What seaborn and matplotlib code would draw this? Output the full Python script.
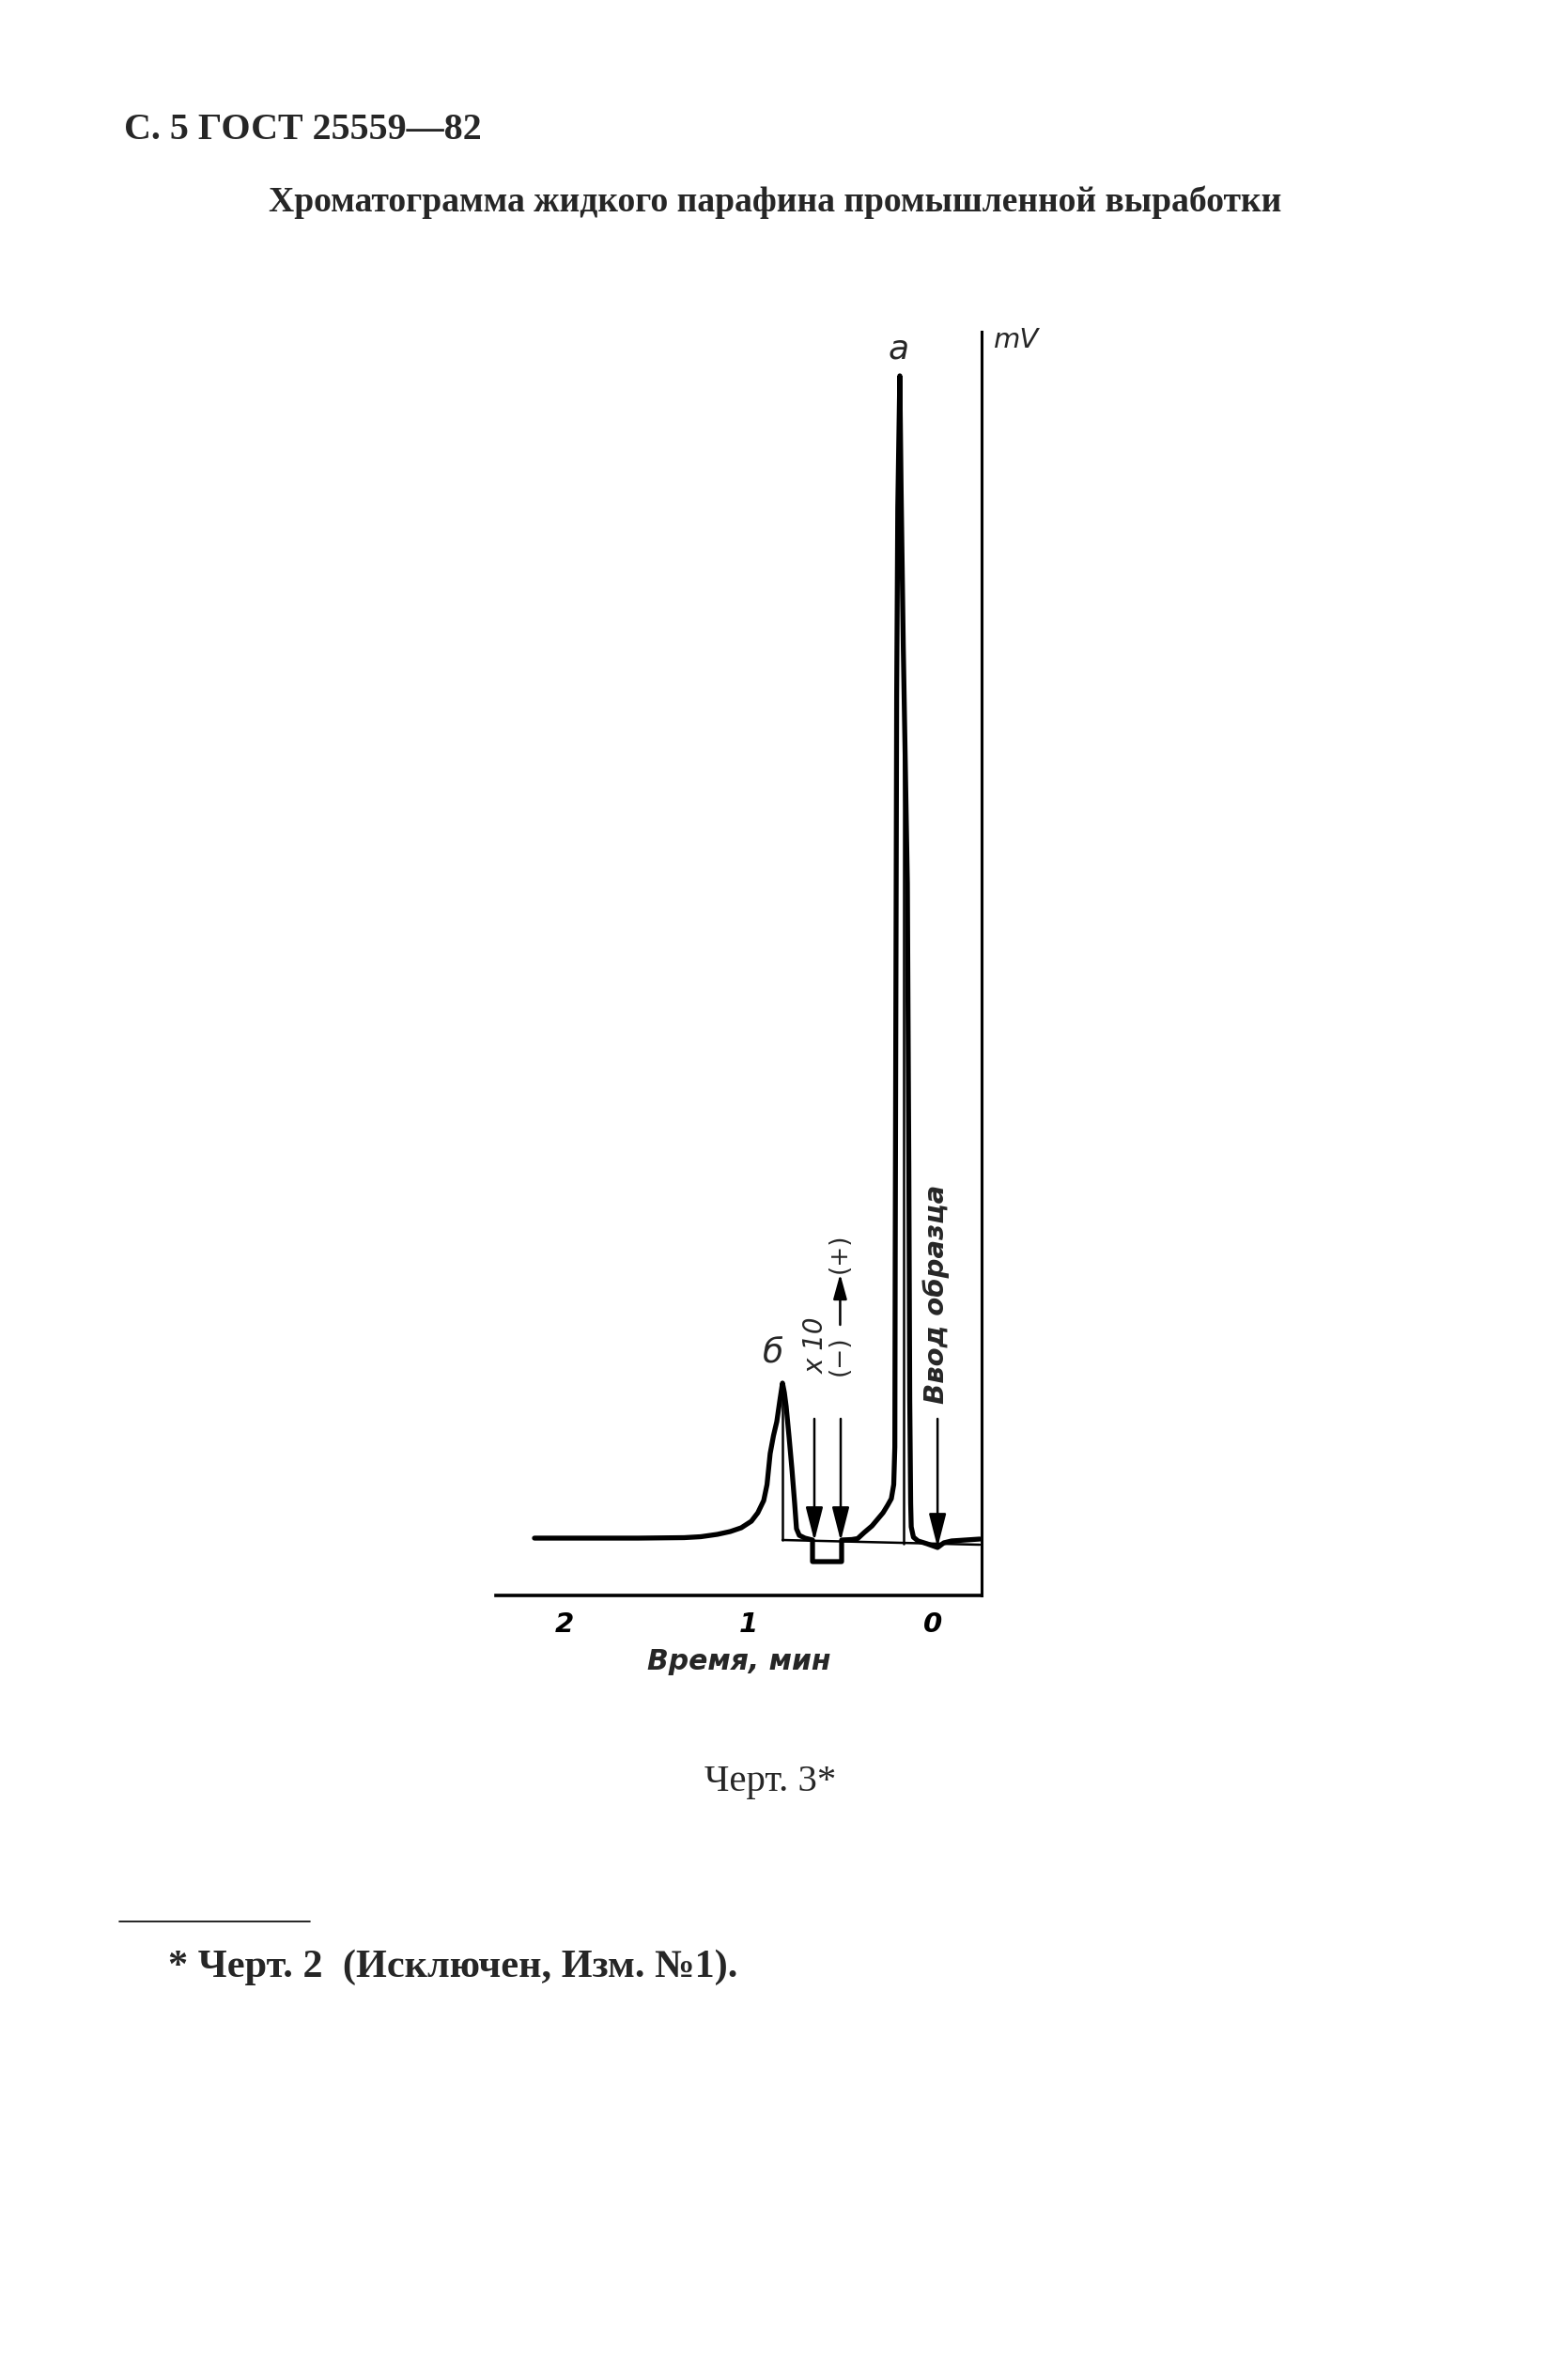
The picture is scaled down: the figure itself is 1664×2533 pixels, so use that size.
import matplotlib
matplotlib.use("Agg")
import matplotlib.pyplot as plt
import seaborn as sns
import pandas as pd

# ---------------- data ----------------
time_min = [2.163, 1.60, 1.35, 1.26, 1.17, 1.10, 1.04, 0.985, 0.95, 0.918, 0.90, 0.883,
            0.865, 0.847, 0.83, 0.816, 0.806, 0.796, 0.78, 0.765, 0.750, 0.740, 0.725,
            0.694, 0.653, 0.653, 0.495, 0.495, 0.44, 0.408, 0.372, 0.33, 0.30, 0.270,
            0.245, 0.225, 0.212, 0.206, 0.204, 0.200, 0.196, 0.190, 0.179, 0.172, 0.160,
            0.138, 0.130, 0.125, 0.120, 0.117, 0.105, 0.08, 0.031, -0.026, -0.06, -0.102,
            -0.255]
signal_mv = [0.3, 0.3, 0.35, 0.45, 0.7, 1.0, 1.4, 2.1, 3.0, 4.3, 6.0, 9.3,
             11.2, 12.7, 15.0, 16.8, 15.8, 14.3, 11.0, 7.7, 4.0, 1.3, 0.6,
             0.3, 0.1, -2.2, -2.2, 0.1, 0.15, 0.25, 0.9, 1.6, 2.3, 3.0,
             3.8, 4.5, 6.0, 10.0, 30.0, 60.0, 90.0, 110.0, 124.0, 112.0, 95.0,
             70.0, 40.0, 15.0, 4.0, 1.5, 0.4, 0.0, -0.3, -0.7, -0.2, 0.0,
             0.2]

peak_names = ["а", "б"]
peak_time = [0.179, 0.816]
peak_height = [124.0, 16.8]

baseline_time = [0.816, -0.255]
baseline_mv = [0.1, -0.4]
drop_a_time = [0.158, 0.158]
drop_a_mv = [-0.3, 95.0]
drop_b_time = [0.816, 0.816]
drop_b_mv = [0.1, 16.8]

event_time = [0.643, 0.500, -0.026]      # attenuation x10, polarity switch, injection
event_tip = [0.0, 0.0, -0.7]

xtick_values = [2, 1, 0]
xtick_labels = ["2", "1", "0"]
x_label = "Время, мин"
y_label = "mV"

title1 = "С. 5 ГОСТ 25559—82"
title2 = "Хроматограмма жидкого парафина промышленной выработки"
caption = "Черт. 3*"
footnote = "* Черт. 2  (Исключен, Изм. №1)."

# ---------------- figure ----------------
W, H = 1665, 2533
sns.set_style("white")
plt.rcParams["font.family"] = ["DejaVu Sans"]
fig = plt.figure(figsize=(W / 100, H / 100), dpi=100)

# axes box in pixels: left 528, right 1045, bottom 1698, top 353
ax = fig.add_axes([528 / W, 1 - 1698 / H, (1045 - 528) / W, (1698 - 353) / H])
ax.set_facecolor("white")

df = pd.DataFrame({"t": time_min, "mv": signal_mv})
sns.lineplot(data=df, x="t", y="mv", sort=False, estimator=None, color="black",
             lw=3.8, ax=ax, solid_joinstyle="round", solid_capstyle="round")
sns.lineplot(x=baseline_time, y=baseline_mv, sort=False, estimator=None,
             color="black", lw=1.8, ax=ax)
sns.lineplot(x=drop_a_time, y=drop_a_mv, sort=False, estimator=None,
             color="black", lw=1.8, ax=ax)
sns.lineplot(x=drop_b_time, y=drop_b_mv, sort=False, estimator=None,
             color="black", lw=1.8, ax=ax)

ax.set_xlim(2.372, -0.265)
ax.set_ylim(-5.8, 128.7)
ax.set_ylabel("")

for s in ["left", "top"]:
    ax.spines[s].set_visible(False)
ax.spines["bottom"].set_linewidth(2.6)
ax.spines["right"].set_linewidth(2.2)
ax.spines["bottom"].set_color("black")
ax.spines["right"].set_color("black")

lab_font = dict(family="DejaVu Sans", style="oblique", weight="bold")
ax.set_xticks(xtick_values)
ax.set_xticklabels(xtick_labels, fontdict=dict(size=21, **lab_font))
ax.set_yticks([])
ax.tick_params(axis="x", direction="in", length=14.5, width=2.0, pad=12,
               color="black", labelcolor="black")
ax.set_xlabel(x_label, fontsize=21.5, labelpad=8, **lab_font)

# peak labels
ax.text(peak_time[0] + 0.005, peak_height[0] + 2.8, peak_names[0], fontsize=26,
        ha="center", va="center", family="DejaVu Sans", style="oblique")
ax.text(peak_time[1] + 0.05, peak_height[1] + 3.2, peak_names[1], fontsize=26,
        ha="center", va="center", family="DejaVu Sans", style="oblique")

# event arrows
for t, tip in zip(event_time, event_tip):
    ax.annotate("", xy=(t, tip), xytext=(t, 13.0),
                arrowprops=dict(arrowstyle="-|>,head_length=1.1,head_width=0.28",
                                mutation_scale=20, lw=1.8, color="black",
                                shrinkA=0, shrinkB=0))

ax.text(event_time[0] - 0.01, 20.8, "x 10", rotation=90, fontsize=20,
        ha="center", va="center", family="DejaVu Sans", style="oblique")
ax.text(event_time[1] + 0.005, 19.7, "(−)", rotation=90, fontsize=19,
        ha="center", va="center", family="DejaVu Sans")
ax.text(event_time[1] + 0.005, 30.6, "(+)", rotation=90, fontsize=19,
        ha="center", va="center", family="DejaVu Sans")
ax.annotate("", xy=(event_time[1] + 0.003, 28.4), xytext=(event_time[1] + 0.003, 23.0),
            arrowprops=dict(arrowstyle="-|>,head_length=0.8,head_width=0.22",
                            mutation_scale=20, lw=1.8, color="black",
                            shrinkA=0, shrinkB=0))
ax.text(event_time[2] + 0.006, 26.3, "Ввод образца", rotation=90, fontsize=21,
        ha="center", va="center", **lab_font)

ax.text(-0.454, 127.8, y_label, fontsize=21, ha="center", va="center",
        clip_on=False, family="DejaVu Sans", style="oblique")

# ---------------- page texts ----------------
serif = "Liberation Serif"
t1 = fig.text(132 / W, 1 - 148 / H, title1, family=serif, weight="bold",
              fontsize=28, ha="left", va="baseline")
t2 = fig.text(286 / W, 1 - 225 / H, title2, family=serif, weight="bold",
              fontsize=22, ha="left", va="baseline")
t3 = fig.text(750 / W, 1 - 1906 / H, caption, family=serif,
              fontsize=22, ha="left", va="baseline")
t4 = fig.text(179 / W, 1 - 2104 / H, footnote, family=serif, weight="bold",
              fontsize=22, ha="left", va="baseline")
fig.add_artist(plt.Line2D([127 / W, 330 / W], [1 - 2045 / H, 1 - 2045 / H],
                          color="black", lw=1.2))

# fit text widths to the reference
fig.canvas.draw()
r = fig.canvas.get_renderer()
for txt, target in [(t1, 381), (t2, 1077), (t3, 140), (t4, 605)]:
    w = txt.get_window_extent(r).width
    txt.set_fontsize(txt.get_fontsize() * target / w)

fig.savefig("out.png", dpi=100, facecolor="white")
